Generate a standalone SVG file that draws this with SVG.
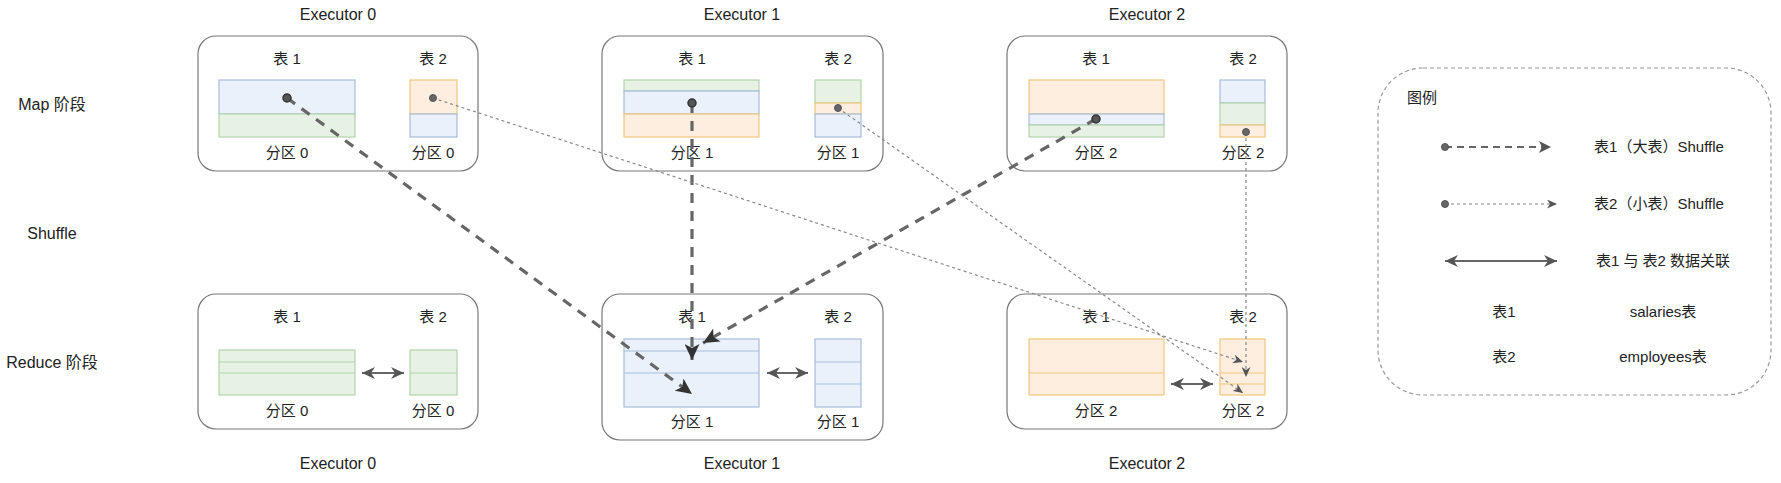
<svg xmlns="http://www.w3.org/2000/svg" width="1781" height="483" viewBox="0 0 1781 483">
<defs>
<style>
text{font-family:"Liberation Sans","Noto Sans CJK SC",sans-serif;fill:#222;font-size:15px;text-anchor:middle}
.exe{font-size:16px}
.stage{font-size:16px}
.box{fill:#fff;stroke:#777;stroke-width:1.2}
.b{fill:#eaf1fb;stroke:#a9bcd9;stroke-width:1.2}
.g{fill:#e7f2e5;stroke:#b3d4ab;stroke-width:1.2}
.o{fill:#fdeedf;stroke:#efc77a;stroke-width:1.2}
.big{fill:none;stroke:#666;stroke-width:3.2;stroke-dasharray:10 8}
.thin{fill:none;stroke:#888;stroke-width:1.2;stroke-dasharray:3 3}
.rel{fill:none;stroke:#666;stroke-width:2}
.dotBig{fill:#555;stroke:#333;stroke-width:1.5}
.dotThin{fill:#666;stroke:#555;stroke-width:1}
</style>
<marker id="bigArrow" markerWidth="17" markerHeight="15" refX="16" refY="7.5" orient="auto" markerUnits="userSpaceOnUse"><path d="M0,0 L16,7.5 L0,15 L4,7.5 z" fill="#333"/></marker>
<marker id="midArrow" markerWidth="13" markerHeight="12" refX="12" refY="6" orient="auto" markerUnits="userSpaceOnUse"><path d="M0,0 L12,6 L0,12 L3,6 z" fill="#555"/></marker>
<marker id="thinArrow" markerWidth="11" markerHeight="9" refX="10" refY="4.5" orient="auto" markerUnits="userSpaceOnUse"><path d="M0,0 L10,4.5 L0,9 L3,4.5 z" fill="#555"/></marker>
<marker id="relArrow" markerWidth="14" markerHeight="12" refX="13" refY="6" orient="auto-start-reverse" markerUnits="userSpaceOnUse"><path d="M0,0 L13,6 L0,12 L4,6 z" fill="#555"/></marker>
</defs>

<g id="stage-labels">
<text class="stage" x="52" y="110">Map 阶段</text>
<text class="stage" x="52" y="239">Shuffle</text>
<text class="stage" x="52" y="368">Reduce 阶段</text>
</g>

<g id="map-executor-0">
<text class="exe" x="338" y="20">Executor 0</text>
<rect class="box" x="198" y="36" width="280" height="135" rx="18"/>
<text x="287" y="64">表 1</text>
<text x="433" y="64">表 2</text>
<rect class="b" x="219" y="80" width="136" height="34"/>
<rect class="g" x="219" y="114" width="136" height="23"/>
<rect class="o" x="410" y="80" width="47" height="34"/>
<rect class="b" x="410" y="114" width="47" height="23"/>
<text x="287" y="158">分区 0</text>
<text x="433" y="158">分区 0</text>
</g>

<g id="map-executor-1">
<text class="exe" x="742" y="20">Executor 1</text>
<rect class="box" x="602" y="36" width="281" height="135" rx="18"/>
<text x="692" y="64">表 1</text>
<text x="838" y="64">表 2</text>
<rect class="g" x="624" y="80" width="135" height="11"/>
<rect class="b" x="624" y="91" width="135" height="23"/>
<rect class="o" x="624" y="114" width="135" height="23"/>
<rect class="g" x="815" y="80" width="46" height="23"/>
<rect class="o" x="815" y="103" width="46" height="11"/>
<rect class="b" x="815" y="114" width="46" height="23"/>
<text x="692" y="158">分区 1</text>
<text x="838" y="158">分区 1</text>
</g>

<g id="map-executor-2">
<text class="exe" x="1147" y="20">Executor 2</text>
<rect class="box" x="1007" y="36" width="280" height="135" rx="18"/>
<text x="1096" y="64">表 1</text>
<text x="1243" y="64">表 2</text>
<rect class="o" x="1029" y="80" width="135" height="34"/>
<rect class="b" x="1029" y="114" width="135" height="11"/>
<rect class="g" x="1029" y="125" width="135" height="12"/>
<rect class="b" x="1220" y="80" width="45" height="23"/>
<rect class="g" x="1220" y="103" width="45" height="22"/>
<rect class="o" x="1220" y="125" width="45" height="12"/>
<text x="1096" y="158">分区 2</text>
<text x="1243" y="158">分区 2</text>
</g>

<g id="reduce-executor-0">
<rect class="box" x="198" y="294" width="280" height="135" rx="18"/>
<text x="287" y="322">表 1</text>
<text x="433" y="322">表 2</text>
<rect class="g" x="219" y="350" width="136" height="45"/>
<line class="g" x1="219" y1="362" x2="355" y2="362"/>
<line class="g" x1="219" y1="373" x2="355" y2="373"/>
<rect class="g" x="410" y="350" width="47" height="45"/>
<line class="g" x1="410" y1="373" x2="457" y2="373"/>
<text x="287" y="416">分区 0</text>
<text x="433" y="416">分区 0</text>
<text class="exe" x="338" y="469">Executor 0</text>
</g>

<g id="reduce-executor-1">
<rect class="box" x="602" y="294" width="281" height="146" rx="18"/>
<text x="692" y="322">表 1</text>
<text x="838" y="322">表 2</text>
<rect class="b" x="624" y="339" width="135" height="68"/>
<line class="b" x1="624" y1="351" x2="759" y2="351"/>
<line class="b" x1="624" y1="373" x2="759" y2="373"/>
<rect class="b" x="815" y="339" width="46" height="68"/>
<line class="b" x1="815" y1="362" x2="861" y2="362"/>
<line class="b" x1="815" y1="384" x2="861" y2="384"/>
<text x="692" y="427">分区 1</text>
<text x="838" y="427">分区 1</text>
<text class="exe" x="742" y="469">Executor 1</text>
</g>

<g id="reduce-executor-2">
<rect class="box" x="1007" y="294" width="280" height="135" rx="18"/>
<text x="1096" y="322">表 1</text>
<text x="1243" y="322">表 2</text>
<rect class="o" x="1029" y="339" width="135" height="56"/>
<line class="o" x1="1029" y1="373" x2="1164" y2="373"/>
<rect class="o" x="1220" y="339" width="45" height="56"/>
<line class="o" x1="1220" y1="373" x2="1265" y2="373"/>
<line class="o" x1="1220" y1="384" x2="1265" y2="384"/>
<text x="1096" y="416">分区 2</text>
<text x="1243" y="416">分区 2</text>
<text class="exe" x="1147" y="469">Executor 2</text>
</g>

<g id="legend">
<rect x="1378" y="68" width="393" height="327" rx="45" fill="none" stroke="#999" stroke-width="1.2" stroke-dasharray="4 3"/>
<text x="1407" y="103" style="text-anchor:start">图例</text>
<line x1="1445" y1="147" x2="1551" y2="147" stroke="#666" stroke-width="2" stroke-dasharray="7 5" marker-end="url(#midArrow)"/>
<circle class="dotThin" cx="1445" cy="147" r="3.5"/>
<text x="1659" y="152">表1（大表）Shuffle</text>
<line x1="1445" y1="204" x2="1557" y2="204" class="thin" marker-end="url(#thinArrow)"/>
<circle class="dotThin" cx="1445" cy="204" r="3.5"/>
<text x="1659" y="209">表2（小表）Shuffle</text>
<line x1="1445" y1="261" x2="1557" y2="261" class="rel" marker-start="url(#relArrow)" marker-end="url(#relArrow)"/>
<text x="1663" y="266">表1 与 表2 数据关联</text>
<text x="1504" y="317">表1</text>
<text x="1663" y="317">salaries表</text>
<text x="1504" y="362">表2</text>
<text x="1663" y="362">employees表</text>
</g>

<g id="connectors">
<line class="big" x1="287" y1="98" x2="692" y2="394" marker-end="url(#bigArrow)"/>
<line class="big" x1="692" y1="103" x2="692" y2="360" marker-end="url(#bigArrow)"/>
<line class="big" x1="1096" y1="119" x2="703" y2="343" marker-end="url(#bigArrow)"/>
<circle class="dotBig" cx="287" cy="98" r="4"/>
<circle class="dotBig" cx="692" cy="103" r="4"/>
<circle class="dotBig" cx="1096" cy="119" r="4"/>
<line class="thin" x1="433" y1="98" x2="1243" y2="362" marker-end="url(#thinArrow)"/>
<line class="thin" x1="838" y1="108" x2="1243" y2="393" marker-end="url(#thinArrow)"/>
<line class="thin" x1="1246" y1="132" x2="1246" y2="377" marker-end="url(#thinArrow)"/>
<circle class="dotThin" cx="433" cy="98" r="3.5"/>
<circle class="dotThin" cx="838" cy="108" r="3.5"/>
<circle class="dotThin" cx="1246" cy="132" r="3.5"/>
<line class="rel" x1="362" y1="373" x2="404" y2="373" marker-start="url(#relArrow)" marker-end="url(#relArrow)"/>
<line class="rel" x1="767" y1="373" x2="808" y2="373" marker-start="url(#relArrow)" marker-end="url(#relArrow)"/>
<line class="rel" x1="1171" y1="384" x2="1213" y2="384" marker-start="url(#relArrow)" marker-end="url(#relArrow)"/>
</g>
</svg>
